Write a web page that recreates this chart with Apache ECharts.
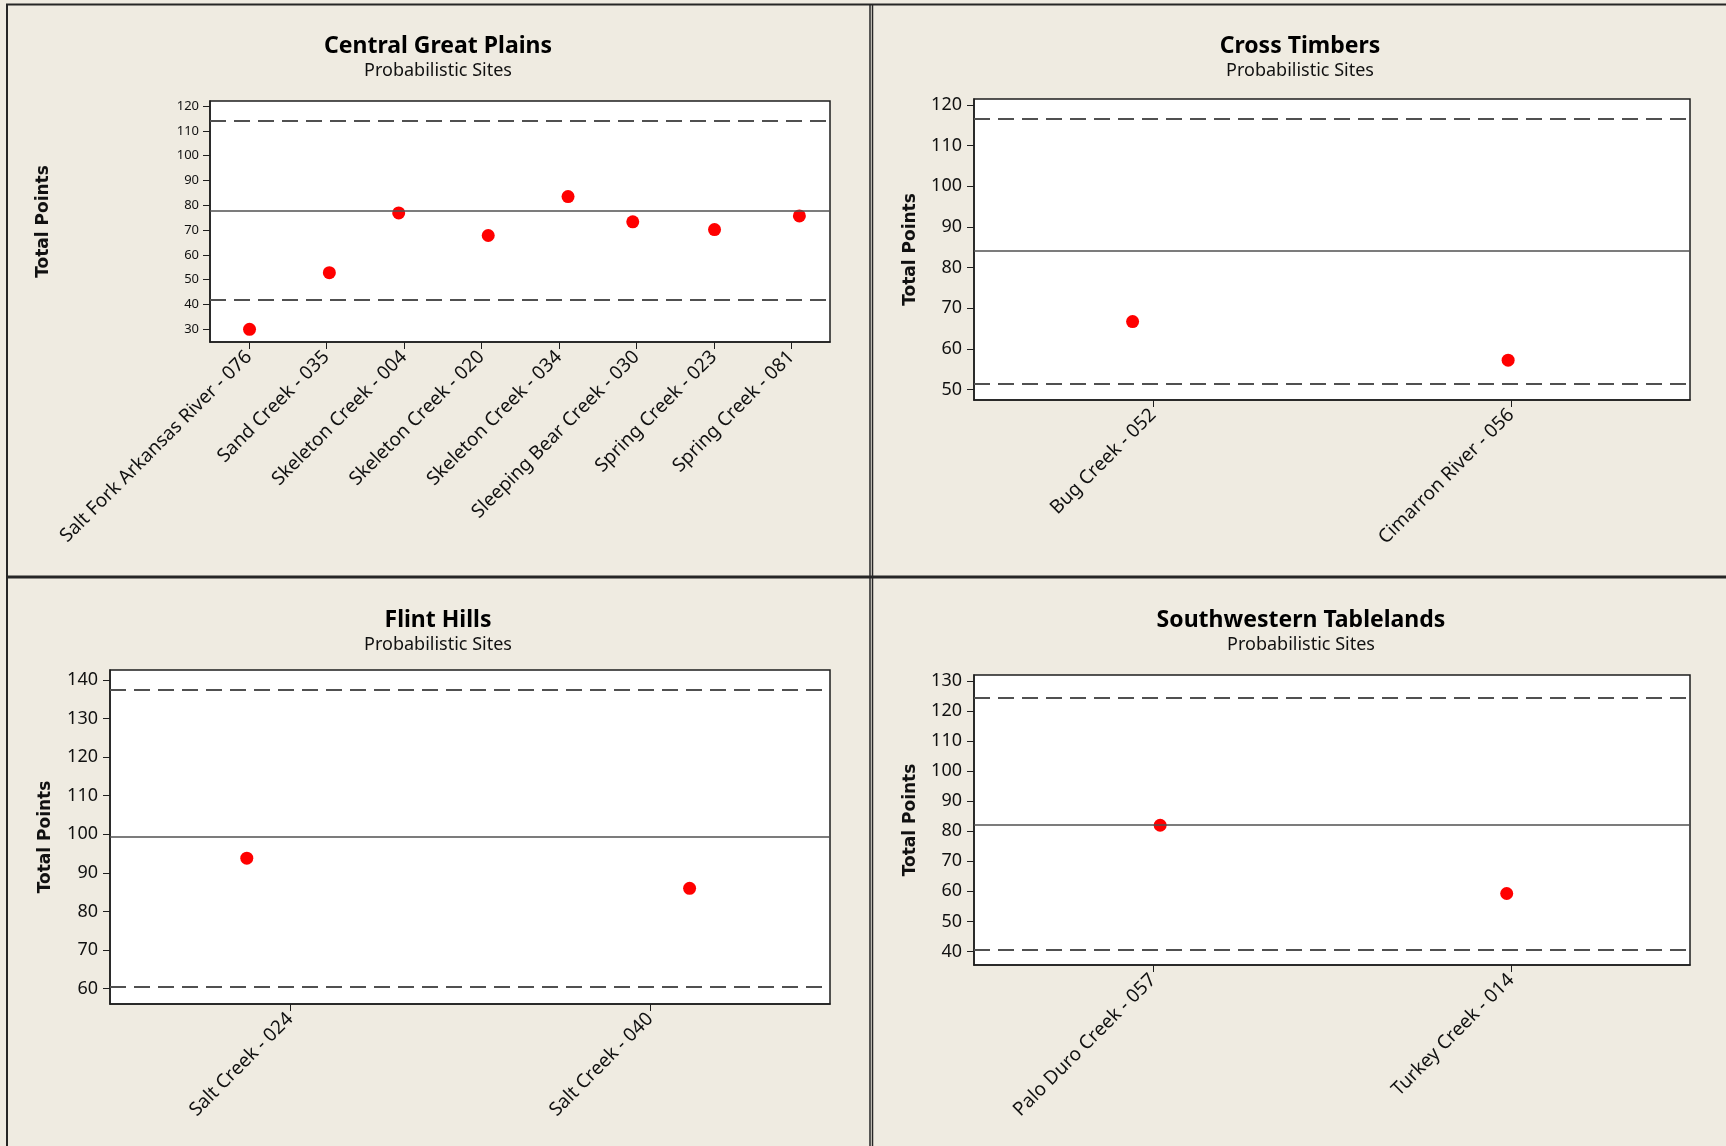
<!DOCTYPE html>
<html>
<head>
<meta charset="utf-8">
<script src="https://cdn.jsdelivr.net/npm/echarts@6/dist/echarts.min.js"></script>
<style>
html,body{margin:0;padding:0;background:#EFEBE1;}
#c{width:1726px;height:1146px;}
</style>
</head>
<body>
<div id="c"></div>
<script>
// ---------- data ----------
const subtitleText = 'Probabilistic Sites';
const yAxisTitle = 'Total Points';

const cgpTitle = 'Central Great Plains';
const cgpSites = ['Salt Fork Arkansas River - 076','Sand Creek - 035','Skeleton Creek - 004','Skeleton Creek - 020','Skeleton Creek - 034','Sleeping Bear Creek - 030','Spring Creek - 023','Spring Creek - 081'];
const cgpScores = [29.9, 52.8, 76.9, 67.8, 83.5, 73.3, 70.2, 75.7];
const cgpJitter = [0.01, 0.04, -0.065, 0.09, 0.12, -0.045, 0.01, 0.105];
const cgpRef = [77.8, 114.0, 41.8];   // mean, upper, lower
const cgpTicks = [30,40,50,60,70,80,90,100,110,120];

const ctTitle = 'Cross Timbers';
const ctSites = ['Bug Creek - 052','Cimarron River - 056'];
const ctScores = [66.7, 57.2];
const ctJitter = [-0.057, -0.008];
const ctRef = [84.1, 116.7, 51.4];
const ctTicks = [50,60,70,80,90,100,110,120];

const fhTitle = 'Flint Hills';
const fhSites = ['Salt Creek - 024','Salt Creek - 040'];
const fhScores = [93.8, 86.0];
const fhJitter = [-0.12, 0.11];
const fhRef = [99.4, 137.6, 60.6];
const fhTicks = [60,70,80,90,100,110,120,130,140];

const stTitle = 'Southwestern Tablelands';
const stSites = ['Palo Duro Creek - 057','Turkey Creek - 014'];
const stScores = [82.0, 59.3];
const stJitter = [0.02, -0.012];
const stRef = [82.2, 124.4, 40.6];
const stTicks = [40,50,60,70,80,90,100,110,120,130];

// ---------- layout ----------
const panels = [
  {title:cgpTitle, sites:cgpSites, scores:cgpScores, jitter:cgpJitter, ref:cgpRef, ticks:cgpTicks,
   grid:{left:210, top:101, width:620, height:241}, yMin:24.8, yMax:122.1, tickFont:13, labelMargin:11,
   titleX:438, titleY:46, subY:71, nameGap:158},
  {title:ctTitle, sites:ctSites, scores:ctScores, jitter:ctJitter, ref:ctRef, ticks:ctTicks,
   grid:{left:974, top:99, width:716, height:301}, yMin:47.4, yMax:121.5, tickFont:18, labelMargin:12,
   titleX:1300, titleY:46, subY:71, nameGap:55},
  {title:fhTitle, sites:fhSites, scores:fhScores, jitter:fhJitter, ref:fhRef, ticks:fhTicks,
   grid:{left:110, top:670, width:720, height:334}, yMin:56.0, yMax:142.6, tickFont:18, labelMargin:12,
   titleX:438, titleY:620, subY:645, nameGap:56},
  {title:stTitle, sites:stSites, scores:stScores, jitter:stJitter, ref:stRef, ticks:stTicks,
   grid:{left:974, top:675, width:716, height:290}, yMin:35.5, yMax:132.0, tickFont:18, labelMargin:12,
   titleX:1301, titleY:620, subY:645, nameGap:55}
];

const FONT = '"Noto Sans", "DejaVu Sans", sans-serif';
const grids = [], xAxes = [], yAxes = [], series = [], titles = [];

panels.forEach((p, i) => {
  grids.push(Object.assign({show:true, backgroundColor:'#ffffff', borderColor:'#1e1e1e', borderWidth:1.5}, p.grid));
  titles.push({text:p.title, left:p.titleX, top:p.titleY - 14, textAlign:'center', padding:0,
    textStyle:{fontFamily:FONT, fontWeight:'bold', fontSize:23, lineHeight:28, color:'#000'}});
  titles.push({text:subtitleText, left:p.titleX, top:p.subY - 11, textAlign:'center', padding:0,
    textStyle:{fontFamily:FONT, fontWeight:'normal', fontSize:18, lineHeight:22, color:'#111'}});
  // visible category axis (labels + ticks)
  xAxes.push({type:'category', gridIndex:i, data:p.sites, boundaryGap:true,
    axisLine:{show:true, onZero:false, lineStyle:{color:'#1e1e1e', width:1.5}},
    axisTick:{show:true, alignWithLabel:true, length:7, lineStyle:{color:'#1e1e1e', width:1}},
    axisLabel:{rotate:45, interval:0, margin:12, fontFamily:FONT, fontSize:19, color:'#111'},
    splitLine:{show:false}});
  // hidden value axis for jittered points
  xAxes.push({type:'value', gridIndex:i, min:-0.5, max:p.sites.length - 0.5, show:false,
    axisLine:{onZero:false}});
  yAxes.push({type:'value', gridIndex:i, min:p.yMin, max:p.yMax,
    axisLine:{show:true, onZero:false, lineStyle:{color:'#1e1e1e', width:1.5}},
    axisTick:{show:true, length:7, customValues:p.ticks, lineStyle:{color:'#1e1e1e', width:1}},
    axisLabel:{customValues:p.ticks, margin:p.labelMargin, fontFamily:FONT, fontSize:p.tickFont, color:'#111'},
    splitLine:{show:false},
    name:yAxisTitle, nameLocation:'middle', nameGap:p.nameGap,
    nameTextStyle:{fontFamily:'"DejaVu Sans", sans-serif', fontWeight:'bold', fontSize:17, color:'#111'}});
  series.push({type:'scatter', xAxisIndex:2*i + 1, yAxisIndex:i, symbol:'circle', symbolSize:13,
    itemStyle:{color:'#ff0000', opacity:1},
    data:p.scores.map((v, k) => [k + p.jitter[k], v]),
    markLine:{silent:true, symbol:'none', label:{show:false}, animation:false,
      data:[
        {yAxis:p.ref[0], lineStyle:{type:'solid', color:'#505050', width:1.5}},
        {yAxis:p.ref[1], lineStyle:{type:[16,8], color:'#505050', width:2}},
        {yAxis:p.ref[2], lineStyle:{type:[16,8], color:'#505050', width:2}}
      ]}});
});

const borderStyle = {stroke:'#262626', lineWidth:2};
const graphics = [
  {type:'line', shape:{x1:6, y1:4.5, x2:1726, y2:4.5}, style:borderStyle, silent:true},
  {type:'line', shape:{x1:7, y1:4, x2:7, y2:1146}, style:borderStyle, silent:true},
  {type:'line', shape:{x1:6, y1:577, x2:1726, y2:577}, style:{stroke:'#262626', lineWidth:3}, silent:true},
  {type:'line', shape:{x1:870, y1:4, x2:870, y2:1146}, style:{stroke:'#262626', lineWidth:1.5}, silent:true},
  {type:'line', shape:{x1:872.5, y1:4, x2:872.5, y2:1146}, style:{stroke:'#262626', lineWidth:1.5}, silent:true}
];

const chart = echarts.init(document.getElementById('c'), null, {renderer:'canvas'});
chart.setOption({
  backgroundColor:'#EFEBE1',
  animation:false,
  title:titles,
  grid:grids,
  xAxis:xAxes,
  yAxis:yAxes,
  series:series,
  graphic:graphics
});
</script>
</body>
</html>
